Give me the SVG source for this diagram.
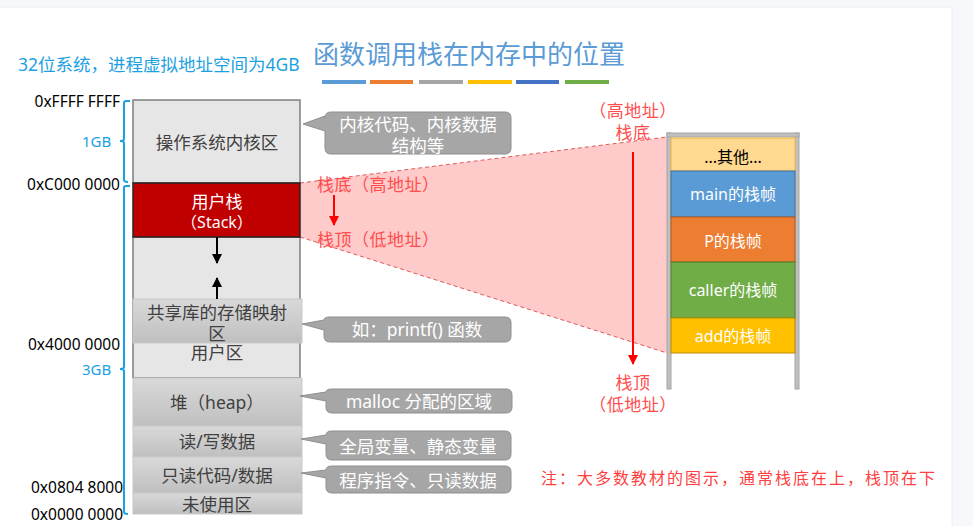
<svg xmlns="http://www.w3.org/2000/svg" width="973" height="526" viewBox="0 0 973 526">
<defs>
<linearGradient id="gg" x1="0" y1="0" x2="0" y2="1"><stop offset="0" stop-color="#d9d9d9"/><stop offset="1" stop-color="#bfbfbf"/></linearGradient>
<marker id="ab" viewBox="0 0 10 10" refX="9" refY="5" markerWidth="5" markerHeight="5" orient="auto"><path d="M0,0 L10,5 L0,10 z" fill="#000"/></marker>
<marker id="ar" viewBox="0 0 10 10" refX="9" refY="5" markerWidth="5" markerHeight="5" orient="auto"><path d="M0,0 L10,5 L0,10 z" fill="#ff0000"/></marker>
<style>
text{font-family:"Noto Sans","Noto Sans CJK SC",sans-serif;}
.addr{font-size:15.5px;fill:#000;text-anchor:end;dominant-baseline:central;}
.blue{fill:#1ba1e2;font-size:15px;dominant-baseline:central;}
.brace{fill:none;stroke:#1ba1e2;stroke-width:2;}
.box{fill:#e6e6e6;stroke:#7f7f7f;stroke-width:1.5;}
.gbox{fill:url(#gg);stroke:#c8c8c8;stroke-width:1;}
.bt{font-size:17.5px;fill:#404040;text-anchor:middle;dominant-baseline:central;}
.call{fill:#a6a6a6;stroke:#8f8f8f;stroke-width:1;}
.ct{font-size:17.5px;fill:#ffffff;text-anchor:middle;dominant-baseline:central;}
.red{font-size:17px;fill:#ff4d4d;dominant-baseline:central;letter-spacing:0.5px;}
.ft{font-size:16px;fill:#ffffff;text-anchor:middle;dominant-baseline:central;}
.up{fill:#bfbfbf;stroke:#a6a6a6;stroke-width:1;}
</style>
</defs>
<rect x="0" y="0" width="973" height="526" fill="#f7f8fc"/>
<rect x="-1" y="7" width="953" height="530" fill="#ffffff" stroke="#ebecf2" stroke-width="1"/>

<g id="title">
<text x="469" y="52" font-size="26" fill="#5b9bd5" text-anchor="middle" dominant-baseline="central" style="font-family:'Noto Sans CJK SC',sans-serif">函数调用栈在内存中的位置</text>
<rect x="322" y="80" width="44" height="4" fill="#5b9bd5"/>
<rect x="370" y="80" width="43" height="4" fill="#ed7d31"/>
<rect x="419" y="80" width="44" height="4" fill="#a5a5a5"/>
<rect x="468" y="80" width="44" height="4" fill="#ffc000"/>
<rect x="516" y="80" width="43" height="4" fill="#4472c4"/>
<rect x="565" y="80" width="44" height="4" fill="#70ad47"/>
</g>

<text x="18" y="64" class="blue" style="font-size:17.5px">32位系统，进程虚拟地址空间为4GB</text>

<g id="addresses">
<text x="120" y="101" class="addr">0xFFFF FFFF</text>
<text x="120" y="184" class="addr">0xC000 0000</text>
<text x="120" y="344" class="addr">0x4000 0000</text>
<text x="123" y="487" class="addr">0x0804 8000</text>
<text x="123" y="514" class="addr">0x0000 0000</text>
</g>

<g id="braces">
<path class="brace" d="M130,101 H126 Q124,101 124,103 V139 Q124,141 120,141 Q124,141 124,143 V180 Q124,182 128,182"/>
<text x="82" y="141" class="blue">1GB</text>
<path class="brace" d="M130,186 H126 Q124,186 124,188 V367 Q124,369 120,369 Q124,369 124,371 V512 Q124,514 128,514"/>
<text x="82" y="369" class="blue">3GB</text>
</g>

<g id="pink-zoom">
<polygon points="300,183 667,137 667,353 300,237" fill="#ffcaca"/>
<line x1="300" y1="183" x2="667" y2="137" stroke="#e05a5a" stroke-width="1" stroke-dasharray="4,3"/>
<line x1="300" y1="237" x2="667" y2="353" stroke="#e05a5a" stroke-width="1" stroke-dasharray="4,3"/>
</g>

<g id="mem-kernel">
<rect class="box" x="133" y="100" width="167" height="83"/>
<text class="bt" x="217" y="142">操作系统内核区</text>
</g>
<g id="mem-user">
<rect class="box" x="133" y="237" width="167" height="141"/>
<text class="bt" x="217" y="352">用户区</text>
</g>
<g id="mem-stack">
<rect x="133" y="183" width="167" height="54" fill="#c00000" stroke="#262626" stroke-width="1.5"/>
<text class="ft" x="217" y="201" style="font-size:17px">用户栈</text>
<text class="ft" x="217" y="222">（Stack）</text>
</g>
<g id="mem-shared">
<rect class="gbox" x="133" y="299" width="169" height="44"/>
<text class="bt" x="217" y="312">共享库的存储映射</text>
<text class="bt" x="217" y="333">区</text>
</g>
<g id="mem-heap">
<rect class="gbox" x="133" y="378" width="169" height="48"/>
<text class="bt" x="217" y="402">堆（heap）</text>
</g>
<g id="mem-rw">
<rect class="gbox" x="133" y="426" width="169" height="31"/>
<text class="bt" x="217" y="441">读/写数据</text>
</g>
<g id="mem-ro">
<rect class="gbox" x="133" y="457" width="169" height="36"/>
<text class="bt" x="217" y="475">只读代码/数据</text>
</g>
<g id="mem-unused">
<rect class="gbox" x="133" y="493" width="169" height="21"/>
<text class="bt" x="217" y="504">未使用区</text>
</g>

<g id="connectors">
<line x1="217" y1="237" x2="217" y2="263" stroke="#000" stroke-width="2" marker-end="url(#ab)"/>
<line x1="217" y1="299" x2="217" y2="278" stroke="#000" stroke-width="2" marker-end="url(#ab)"/>
<line x1="334" y1="195" x2="334" y2="225" stroke="#ff0000" stroke-width="2" marker-end="url(#ar)"/>
<line x1="633" y1="152" x2="633" y2="364" stroke="#ff0000" stroke-width="2" marker-end="url(#ar)"/>
</g>

<g id="stack-labels">
<text class="red" x="317" y="184">栈底（高地址）</text>
<text class="red" x="317" y="239">栈顶（低地址）</text>
<text class="red" x="633" y="110" text-anchor="middle">（高地址）</text>
<text class="red" x="633" y="132" text-anchor="middle">栈底</text>
<text class="red" x="633" y="382" text-anchor="middle">栈顶</text>
<text class="red" x="633" y="404" text-anchor="middle">（低地址）</text>
</g>

<g id="callout-kernel">
<path class="call" d="M331,112 H505 Q511,112 511,118 V148 Q511,154 505,154 H331 Q325,154 325,148 V131 L303,124 L325,116 V118 Q325,112 331,112 Z"/>
<text class="ct" x="418" y="124">内核代码、内核数据</text>
<text class="ct" x="418" y="145">结构等</text>
</g>
<g id="callout-printf">
<path class="call" d="M330,317 H505 Q511,317 511,323 V336 Q511,342 505,342 H330 Q324,342 324,336 V330 L302,324 L324,320 Q324,317 330,317 Z"/>
<text class="ct" x="417" y="329">如：printf() 函数</text>
</g>
<g id="callout-malloc">
<path class="call" d="M332,389 H506 Q512,389 512,395 V407 Q512,413 506,413 H332 Q326,413 326,407 V401 L300,396 L326,392 Q326,389 332,389 Z"/>
<text class="ct" x="419" y="401">malloc 分配的区域</text>
</g>
<g id="callout-global">
<path class="call" d="M332,431 H505 Q511,431 511,437 V454 Q511,460 505,460 H332 Q326,460 326,454 V444 L301,439 L326,435 Q326,431 332,431 Z"/>
<text class="ct" x="418" y="446">全局变量、静态变量</text>
</g>
<g id="callout-code">
<path class="call" d="M332,466 H505 Q511,466 511,472 V487 Q511,493 505,493 H332 Q326,493 326,487 V478 L301,473 L326,470 Q326,466 332,466 Z"/>
<text class="ct" x="418" y="480">程序指令、只读数据</text>
</g>

<g id="frame-column">
<rect class="up" x="667" y="133" width="4" height="256"/>
<rect class="up" x="795" y="133" width="4" height="256"/>
<rect class="up" x="667" y="133" width="132" height="4"/>
</g>
<g id="frame-other">
<rect x="671" y="138" width="124" height="33" fill="#ffd98f" stroke="#f4b942" stroke-width="1"/>
<text x="733" y="157" font-size="16" fill="#000" text-anchor="middle" dominant-baseline="central">...其他...</text>
</g>
<g id="frame-main">
<rect x="671" y="171" width="124" height="46" fill="#5b9bd5" stroke="#41719c" stroke-width="1"/>
<text class="ft" x="733" y="194">main的栈帧</text>
</g>
<g id="frame-p">
<rect x="671" y="217" width="124" height="45" fill="#ed7d31" stroke="#ae5a21" stroke-width="1"/>
<text class="ft" x="733" y="241">P的栈帧</text>
</g>
<g id="frame-caller">
<rect x="671" y="262" width="124" height="56" fill="#70ad47" stroke="#507e32" stroke-width="1"/>
<text class="ft" x="733" y="290">caller的栈帧</text>
</g>
<g id="frame-add">
<rect x="671" y="318" width="124" height="35" fill="#ffc000" stroke="#bc8c00" stroke-width="1"/>
<text class="ft" x="733" y="336">add的栈帧</text>
</g>

<text x="541" y="477" font-size="16" fill="#ff4040" letter-spacing="2" dominant-baseline="central" style="font-family:'Noto Sans CJK SC',sans-serif">注：大多数教材的图示，通常栈底在上，栈顶在下</text>
</svg>
